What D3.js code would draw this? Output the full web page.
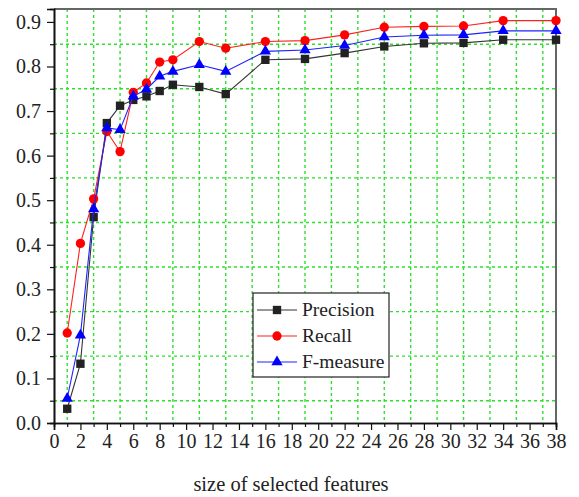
<!DOCTYPE html>
<html>
<head>
<meta charset="utf-8">
<script src="https://cdn.jsdelivr.net/npm/d3@7"></script>
<style>
  body { margin: 0; background: #fff; }
</style>
</head>
<body>
<div id="graphwindow"></div>
<script>
// data
const sizes = [1, 2, 3, 4, 5, 6, 7, 8, 9, 11, 13, 16, 19, 22, 25, 28, 31, 34, 38];
const precision = [0.032, 0.133, 0.462, 0.673, 0.712, 0.725, 0.733, 0.745, 0.759, 0.754, 0.738,
  0.815, 0.817, 0.830, 0.845, 0.852, 0.853, 0.860, 0.860];
const recall = [0.202, 0.403, 0.503, 0.654, 0.609, 0.742, 0.763, 0.810, 0.815, 0.856, 0.841,
  0.856, 0.858, 0.871, 0.888, 0.890, 0.891, 0.903, 0.903];
const fmeasure = [0.055, 0.197, 0.480, 0.662, 0.658, 0.733, 0.749, 0.778, 0.789, 0.804, 0.789,
  0.834, 0.837, 0.847, 0.866, 0.870, 0.871, 0.880, 0.880];
const xTicks = d3.range(0, 39, 2);
const yTicks = [0, 0.1, 0.2, 0.3, 0.4, 0.5, 0.6, 0.7, 0.8, 0.9];

const font = "Liberation Serif, Times New Roman, serif";

const margin = { top: 9, right: 23, bottom: 74, left: 54 },
  width = 579 - margin.left - margin.right,
  height = 497 - margin.top - margin.bottom;

const svg = d3
  .select("#graphwindow")
  .append("svg")
  .attr("width", 579)
  .attr("height", 497)
  .append("g")
  .attr("transform", "translate(" + margin.left + "," + margin.top + ")");

const x = d3.scaleLinear().domain([0, 38]).range([0, width]);
const y = d3.scaleLinear().domain([0, 0.929]).range([height, 0]);

// grille (sur les graduations mineures)
const grid = "#2ee02e";
svg
  .selectAll(".hgrid")
  .data(d3.range(0.05, 0.9, 0.1))
  .enter()
  .append("line")
  .attr("x1", 0)
  .attr("x2", width)
  .attr("y1", (d) => y(d))
  .attr("y2", (d) => y(d))
  .style("stroke", grid)
  .style("stroke-width", 1.4)
  .style("stroke-dasharray", "3,3");

svg
  .selectAll(".vgrid")
  .data(d3.range(1, 38, 2))
  .enter()
  .append("line")
  .attr("x1", (d) => x(d))
  .attr("x2", (d) => x(d))
  .attr("y1", 0)
  .attr("y2", height)
  .style("stroke", grid)
  .style("stroke-width", 1.4)
  .style("stroke-dasharray", "3,3");

// cadre haut / droite
svg
  .append("path")
  .attr("d", "M0,0H" + width + "V" + height)
  .style("fill", "none")
  .style("stroke", "#666")
  .style("stroke-width", 2);

// axe x
const xAxis = svg
  .append("g")
  .attr("transform", "translate(0," + height + ")")
  .call(d3.axisBottom(x).tickValues(xTicks).tickSize(7).tickPadding(4));
xAxis
  .append("g")
  .call(d3.axisBottom(x).tickValues(d3.range(1, 38, 2)).tickSize(4).tickFormat(""));

// axe y
const yAxis = svg
  .append("g")
  .call(d3.axisLeft(y).tickValues(yTicks).tickSize(7).tickPadding(6).tickFormat(d3.format(".1f")));
yAxis
  .append("g")
  .call(d3.axisLeft(y).tickValues(d3.range(0.05, 0.9, 0.1)).tickSize(4).tickFormat(""));

svg.selectAll(".domain").style("stroke", "#111").style("stroke-width", 1.6);
svg.selectAll(".tick line").style("stroke", "#111").style("stroke-width", 1.2);
xAxis.attr("font-family", font).attr("font-size", 20);
yAxis.attr("font-family", font).attr("font-size", 20);
svg.selectAll(".tick text").style("fill", "#222");

svg
  .append("text")
  .attr("x", width / 2 - 14)
  .attr("y", height + 68)
  .attr("text-anchor", "middle")
  .attr("font-family", font)
  .attr("font-size", 20.5)
  .style("fill", "#222")
  .text("size of selected features");

// séries
const series = [
  { name: "Precision", values: precision, color: "#222", line: "#333", shape: d3.symbolSquare, size: 70 },
  { name: "Recall", values: recall, color: "#ff0000", line: "#ff2020", shape: d3.symbolCircle, size: 68 },
  { name: "F-measure", values: fmeasure, color: "#0000ff", line: "#2020ff", shape: d3.symbolTriangle, size: 55 },
];

const line = d3
  .line()
  .x((d) => x(d[0]))
  .y((d) => y(d[1]));

series.forEach(function (s) {
  const pts = sizes.map((v, i) => [v, s.values[i]]);
  svg
    .append("path")
    .datum(pts)
    .attr("d", line)
    .style("fill", "none")
    .style("stroke", s.line)
    .style("stroke-width", 1.1);
  svg
    .selectAll(null)
    .data(pts)
    .enter()
    .append("path")
    .attr("d", d3.symbol().type(s.shape).size(s.size))
    .attr("transform", (d) => "translate(" + x(d[0]) + "," + y(d[1]) + ")")
    .style("fill", s.color);
});

// légende
const lg = svg.append("g").attr("transform", "translate(199,284)");
lg.append("rect")
  .attr("width", 136)
  .attr("height", 84)
  .style("fill", "#fff")
  .style("stroke", "#222")
  .style("stroke-width", 1.2);
series.forEach(function (s, i) {
  const yy = 17 + i * 26;
  lg.append("line")
    .attr("x1", 4)
    .attr("x2", 44)
    .attr("y1", yy)
    .attr("y2", yy)
    .style("stroke", s.line)
    .style("stroke-width", 1.1);
  lg.append("path")
    .attr("d", d3.symbol().type(s.shape).size(s.size))
    .attr("transform", "translate(24," + yy + ")")
    .style("fill", s.color);
  lg.append("text")
    .attr("x", 49)
    .attr("y", yy + 6)
    .attr("font-family", font)
    .attr("font-size", 19.5)
    .style("fill", "#222")
    .text(s.name);
});
</script>
</body>
</html>
